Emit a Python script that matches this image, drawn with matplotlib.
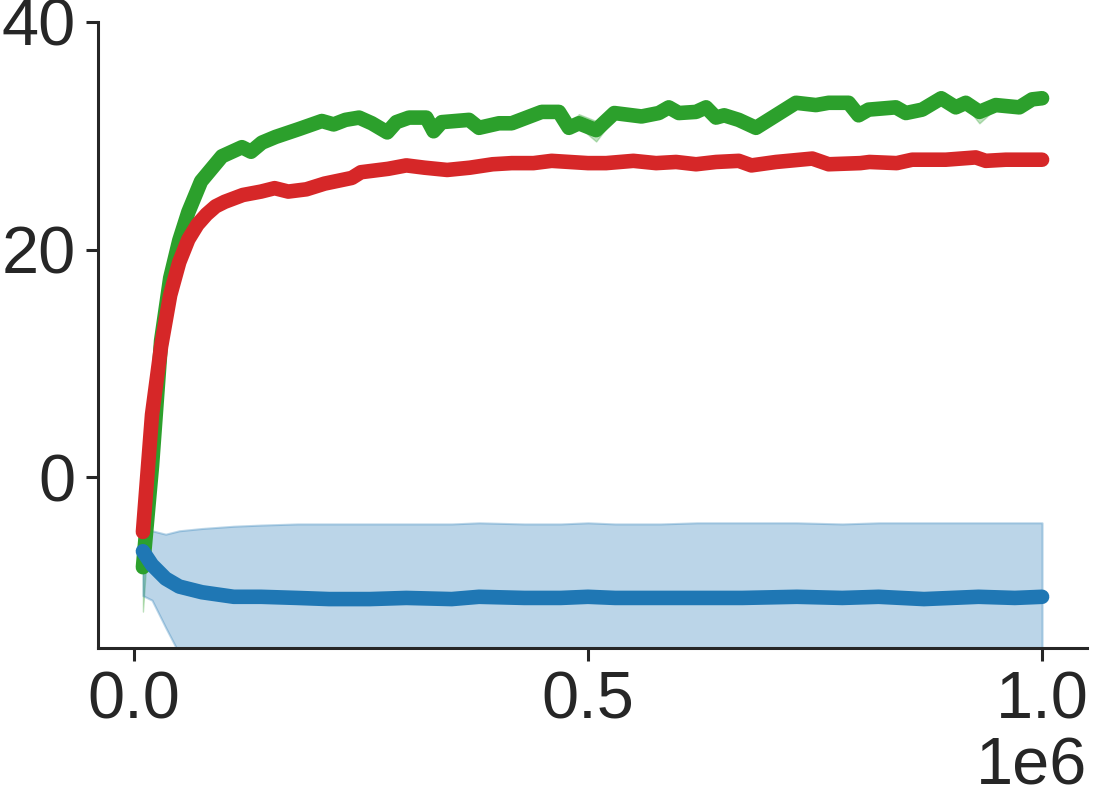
import numpy as np
import matplotlib
matplotlib.use("Agg")
import matplotlib.pyplot as plt

plt.rcParams['font.family'] = ['Liberation Sans', 'DejaVu Sans']

# green run (x in millions of steps)
green_x = [0.01, 0.02, 0.03, 0.04, 0.05, 0.06, 0.074, 0.097, 0.119, 0.129,
           0.141, 0.156, 0.182, 0.207, 0.220, 0.233, 0.248, 0.262, 0.279, 0.289,
           0.303, 0.322, 0.330, 0.339, 0.369, 0.380, 0.402, 0.416, 0.449, 0.468,
           0.479, 0.490, 0.509, 0.529, 0.559, 0.578, 0.589, 0.600, 0.619, 0.630,
           0.641, 0.650, 0.666, 0.685, 0.729, 0.751, 0.765, 0.787, 0.798, 0.809,
           0.839, 0.850, 0.868, 0.889, 0.905, 0.916, 0.931, 0.949, 0.975, 0.989, 1.0]
green_y = [-7.9, 1.0, 12.0, 17.5, 20.8, 23.3, 26.0, 28.2, 29.0, 28.6,
           29.4, 29.9, 30.6, 31.3, 31.0, 31.4, 31.6, 31.1, 30.3, 31.2,
           31.6, 31.6, 30.4, 31.2, 31.4, 30.7, 31.1, 31.1, 32.1, 32.1,
           30.7, 31.1, 30.5, 32.0, 31.7, 32.0, 32.5, 32.0, 32.1, 32.5,
           31.6, 31.8, 31.4, 30.7, 32.9, 32.7, 32.9, 32.9, 31.8, 32.3,
           32.5, 32.0, 32.3, 33.3, 32.5, 32.9, 32.1, 32.7, 32.5, 33.2, 33.3]
green_lo = [3.9, 1.0, 0.8, 0.5, 0.4, 0.4, 0.4, 0.5, 0.3, 0.3,
            0.2, 0.2, 0.2, 0.2, 0.2, 0.2, 0.2, 0.3, 0.5, 0.2,
            0.2, 0.2, 0.5, 0.2, 0.2, 0.5, 0.3, 0.5, 0.2, 0.2,
            0.5, 0.3, 1.0, 0.4, 0.3, 0.2, 0.2, 0.4, 0.2, 0.2,
            0.3, 0.2, 0.3, 0.5, 0.2, 0.2, 0.2, 0.2, 0.3, 0.2,
            0.2, 0.3, 0.2, 0.2, 0.4, 0.3, 1.0, 0.3, 0.2, 0.2, 0.2]
green_hi = [0.5, 1.0, 0.8, 0.5, 0.4, 0.4, 0.3, 0.3, 0.3, 0.3,
            0.2, 0.2, 0.2, 0.2, 0.2, 0.2, 0.2, 0.2, 0.2, 0.2,
            0.2, 0.2, 0.3, 0.2, 0.3, 0.3, 0.3, 0.5, 0.2, 0.2,
            0.3, 0.8, 0.8, 0.3, 0.2, 0.2, 0.2, 0.2, 0.2, 0.2,
            0.2, 0.2, 0.2, 0.4, 0.2, 0.2, 0.2, 0.2, 0.2, 0.2,
            0.2, 0.2, 0.2, 0.2, 0.2, 0.3, 0.5, 0.2, 0.2, 0.2, 0.2]

# red run
red_x = [0.01, 0.02, 0.03, 0.04, 0.05, 0.06, 0.07, 0.08, 0.09, 0.10,
         0.12, 0.14, 0.155, 0.17, 0.19, 0.21, 0.24, 0.25, 0.28, 0.30,
         0.32, 0.345, 0.37, 0.395, 0.416, 0.44, 0.46, 0.48, 0.50, 0.52,
         0.55, 0.575, 0.597, 0.619, 0.641, 0.666, 0.68, 0.707, 0.747, 0.765,
         0.80, 0.81, 0.84, 0.857, 0.894, 0.927, 0.938, 0.96, 1.0]
red_y = [-4.8, 5.5, 11.5, 16.0, 18.9, 20.9, 22.2, 23.1, 23.8, 24.2,
         24.8, 25.1, 25.4, 25.1, 25.3, 25.8, 26.3, 26.8, 27.1, 27.4,
         27.2, 27.0, 27.2, 27.5, 27.6, 27.6, 27.8, 27.7, 27.6, 27.6,
         27.8, 27.6, 27.7, 27.5, 27.7, 27.8, 27.4, 27.7, 28.0, 27.5,
         27.6, 27.7, 27.6, 27.9, 27.9, 28.1, 27.8, 27.9, 27.9]

# blue run with its wide band
blue_x = [0.01, 0.02, 0.035, 0.05, 0.075, 0.11, 0.14, 0.18, 0.215, 0.26,
          0.30, 0.35, 0.38, 0.43, 0.47, 0.50, 0.53, 0.58, 0.62, 0.67,
          0.73, 0.78, 0.82, 0.87, 0.93, 0.97, 1.0]
blue_y = [-6.5, -7.7, -8.9, -9.6, -10.1, -10.5, -10.5, -10.6, -10.7, -10.7,
          -10.6, -10.7, -10.5, -10.6, -10.6, -10.5, -10.6, -10.6, -10.6, -10.6,
          -10.5, -10.6, -10.5, -10.7, -10.5, -10.6, -10.5]
blue_hi = [-4.6, -4.7, -5.0, -4.7, -4.5, -4.3, -4.2, -4.1, -4.1, -4.1,
           -4.1, -4.1, -4.0, -4.1, -4.1, -4.0, -4.1, -4.1, -4.0, -4.0,
           -4.0, -4.1, -4.0, -4.0, -4.0, -4.0, -4.0]
blue_lo = [-10.4, -10.8, -13.2, -15.5, -18.0, -18.5, -18.6, -18.6, -18.7, -18.7,
           -18.6, -18.8, -18.4, -18.6, -18.6, -18.4, -18.6, -18.7, -18.6, -18.6,
           -18.5, -18.7, -18.5, -18.8, -18.5, -18.6, -18.5]

dark = '#262626'

fig = plt.figure(figsize=(10.96, 8.08), dpi=100)
ax = fig.add_axes([0.0894, 0.198, 0.9024, 0.7748])

gx = np.array(green_x) * 1e6
gy = np.array(green_y)
ax.fill_between(gx, gy - np.array(green_lo), gy + np.array(green_hi),
                color='#2ca02c', alpha=0.3, lw=1)
ax.plot(gx, gy, color='#2ca02c', lw=10.5, solid_capstyle='round', solid_joinstyle='round')

rx = np.array(red_x) * 1e6
ax.plot(rx, red_y, color='#d62728', lw=10.5, solid_capstyle='round', solid_joinstyle='round')

bx = np.array(blue_x) * 1e6
ax.fill_between(bx, blue_lo, blue_hi, color='#1f77b4', alpha=0.3, lw=1.5)
ax.plot(bx, blue_y, color='#1f77b4', lw=10.5, solid_capstyle='round', solid_joinstyle='round')

ax.set_ylim(-15, 40)
ax.set_yticks([0, 20, 40])
ax.set_xticks([0, 0.5e6, 1.0e6])

for side in ['top', 'right']:
    ax.spines[side].set_visible(False)
for side in ['left', 'bottom']:
    ax.spines[side].set_linewidth(2.2)
    ax.spines[side].set_color(dark)

ax.tick_params(axis='both', labelsize=48, length=9, width=2.2, color=dark,
               labelcolor=dark, pad=7)
ax.xaxis.get_offset_text().set_fontsize(48)
ax.xaxis.get_offset_text().set_color(dark)

fig.savefig('out.png', dpi=100)
